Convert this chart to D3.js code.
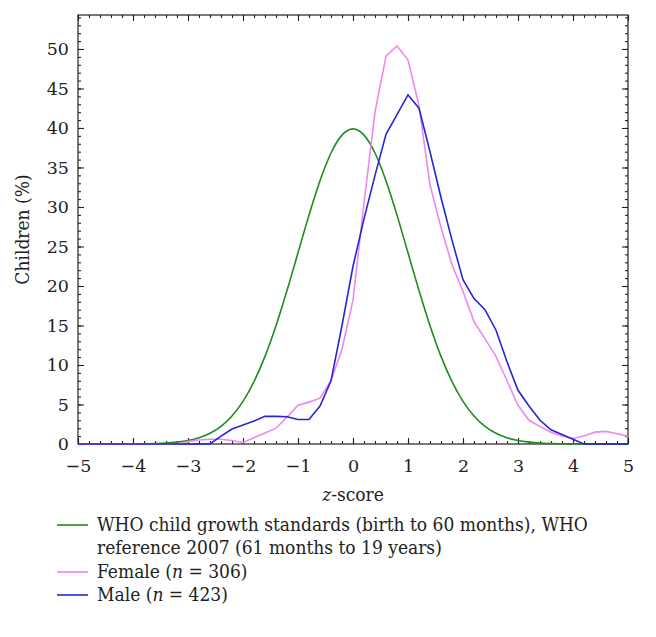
<!DOCTYPE html>
<html>
<head>
<meta charset="utf-8">
<script src="https://cdn.jsdelivr.net/npm/d3@7"></script>
<style>
  html, body { margin: 0; padding: 0; background: #fff; }
  svg { display: block; }
</style>
</head>
<body>
<svg id="chart" width="656" height="637"></svg>
<script>
// z-score grid (step 0.2 from -5 to 5)
const zScores = [-5.0,-4.8,-4.6,-4.4,-4.2,-4.0,-3.8,-3.6,-3.4,-3.2,-3.0,-2.8,-2.6,-2.4,-2.2,-2.0,-1.8,-1.6,-1.4,-1.2,-1.0,-0.8,-0.6,-0.4,-0.2,0.0,0.2,0.4,0.6,0.8,1.0,1.2,1.4,1.6,1.8,2.0,2.2,2.4,2.6,2.8,3.0,3.2,3.4,3.6,3.8,4.0,4.2,4.4,4.6,4.8,5.0];

const whoValues = [0,0,0,0,0,0.01,0.03,0.06,0.12,0.24,0.44,0.79,1.36,2.24,3.55,5.40,7.90,11.09,14.97,19.42,24.20,28.97,33.32,36.83,39.10,39.89,39.10,36.83,33.32,28.97,24.20,19.42,14.97,11.09,7.90,5.40,3.55,2.24,1.36,0.79,0.44,0.24,0.12,0.06,0.03,0.01,0,0,0,0,0];

const femaleValues = [0,0,0,0,0,0,0,0,0,0,0.3,0.5,0.6,0.6,0.45,0.2,0.8,1.4,2.0,3.4,4.9,5.3,5.8,8.0,12.0,18.2,30.5,42.0,49.1,50.4,48.6,42.8,32.8,27.4,22.7,19.3,15.5,13.3,11.1,8.0,4.9,3.0,2.2,1.5,1.0,0.7,1.0,1.5,1.6,1.3,1.0];

const maleValues = [0,0,0,0,0,0,0,0,0,0,0,0,0,1.0,1.9,2.4,2.9,3.5,3.5,3.45,3.1,3.1,4.8,8.0,15.0,22.5,28.5,34.0,39.2,41.7,44.2,42.5,37.0,31.2,25.8,20.8,18.4,17.0,14.4,10.4,6.8,4.8,3.0,1.8,1.2,0.6,0,0,0,0,0];

const xTicks = [-5,-4,-3,-2,-1,0,1,2,3,4,5];
const yTicks = [0,5,10,15,20,25,30,35,40,45,50];

const seriesNames = ["WHO child growth standards (birth to 60 months), WHO", "reference 2007 (61 months to 19 years)", "Female", "Male"];
const seriesColors = { who: "#1f8a1f", female: "#ee88ee", male: "#2626d6" };

const FONT = "'DejaVu Serif', serif";
const FONT_C = "'DejaVu Serif Condensed', 'DejaVu Serif', serif";

const svg = d3.select("#chart");
const pLeft = 78, pRight = 628, pTop = 15, pBottom = 444;

const x = d3.scaleLinear().domain([-5, 5]).range([pLeft, pRight]);
const y = d3.scaleLinear().domain([0, 54.3]).range([pBottom, pTop]);

const fmt = d => d < 0 ? "\u2212" + Math.abs(d) : String(d);

// Frame
svg.append("rect").attr("x", pLeft).attr("y", pTop).attr("width", pRight - pLeft).attr("height", pBottom - pTop)
  .attr("fill", "none").attr("stroke", "#222").attr("stroke-width", 1.2);

const minorX = d3.range(-5, 5.0001, 0.2).map(v => +v.toFixed(1));
const minorY = d3.range(0, 54.3, 1);

function addAxis(axisFn, transform) {
  const g = svg.append("g").attr("transform", transform).call(axisFn)
    .attr("font-family", FONT).attr("font-size", 17.5);
  g.select(".domain").remove();
  g.selectAll(".tick line").attr("stroke", "#222").attr("stroke-width", 1.1);
  g.selectAll(".tick text").style("font-family", FONT).attr("fill", "#222");
  return g;
}

// bottom
addAxis(d3.axisBottom(x).tickValues(minorX).tickSize(-3).tickFormat(""), `translate(0,${pBottom})`);
addAxis(d3.axisBottom(x).tickValues(xTicks).tickSize(-6).tickFormat(fmt).tickPadding(16), `translate(0,${pBottom})`);
// top
addAxis(d3.axisTop(x).tickValues(minorX).tickSize(-3).tickFormat(""), `translate(0,${pTop})`);
addAxis(d3.axisTop(x).tickValues(xTicks).tickSize(-6).tickFormat(""), `translate(0,${pTop})`);
// left
addAxis(d3.axisLeft(y).tickValues(minorY).tickSize(-3).tickFormat(""), `translate(${pLeft},0)`);
addAxis(d3.axisLeft(y).tickValues(yTicks).tickSize(-6).tickFormat(fmt).tickPadding(9), `translate(${pLeft},0)`);
// right
addAxis(d3.axisRight(y).tickValues(minorY).tickSize(-3).tickFormat(""), `translate(${pRight},0)`);
addAxis(d3.axisRight(y).tickValues(yTicks).tickSize(-6).tickFormat(""), `translate(${pRight},0)`);

// Lines
const smooth = d3.line().x((d, i) => x(zScores[i])).y(d => y(d)).curve(d3.curveMonotoneX);
const straight = d3.line().x((d, i) => x(zScores[i])).y(d => y(d));

svg.append("path").datum(whoValues).attr("d", smooth).attr("fill", "none")
  .attr("stroke", seriesColors.who).attr("stroke-width", 1.6);
svg.append("path").datum(femaleValues).attr("d", straight).attr("fill", "none")
  .attr("stroke", seriesColors.female).attr("stroke-width", 1.6);
svg.append("path").datum(maleValues).attr("d", straight).attr("fill", "none")
  .attr("stroke", seriesColors.male).attr("stroke-width", 1.6);

// Axis titles
svg.append("text").attr("transform", `translate(29,${(pTop + pBottom) / 2}) rotate(-90)`)
  .style("font-family", FONT_C).style("font-stretch", "condensed").attr("fill", "#222")
  .attr("text-anchor", "middle").attr("font-size", 19).text("Children (%)");

const xt = svg.append("text").attr("x", (pLeft + pRight) / 2).attr("y", 501)
  .style("font-family", FONT_C).style("font-stretch", "condensed").attr("fill", "#222")
  .attr("text-anchor", "middle").attr("font-size", 19);
xt.append("tspan").attr("font-style", "italic").text("z");
xt.append("tspan").text("-score");

// Legend
const lgX = 97, lineX0 = 57, lineX1 = 88;
const legendRows = [
  { y: 531, color: seriesColors.who, parts: [[seriesNames[0], false]] },
  { y: 554, color: null, parts: [[seriesNames[1], false]] },
  { y: 578, color: seriesColors.female, parts: [["Female (", false], ["n", true], [" = 306)", false]] },
  { y: 601, color: seriesColors.male, parts: [["Male (", false], ["n", true], [" = 423)", false]] }
];
legendRows.forEach(r => {
  if (r.color) {
    svg.append("line").attr("x1", lineX0).attr("x2", lineX1).attr("y1", r.y - 6).attr("y2", r.y - 6)
      .attr("stroke", r.color).attr("stroke-width", 1.6);
  }
  const t = svg.append("text").attr("x", lgX).attr("y", r.y).attr("font-size", 19)
    .style("font-family", FONT_C).style("font-stretch", "condensed").attr("fill", "#222");
  r.parts.forEach(p => t.append("tspan").attr("font-style", p[1] ? "italic" : null).text(p[0]));
});
</script>
</body>
</html>
